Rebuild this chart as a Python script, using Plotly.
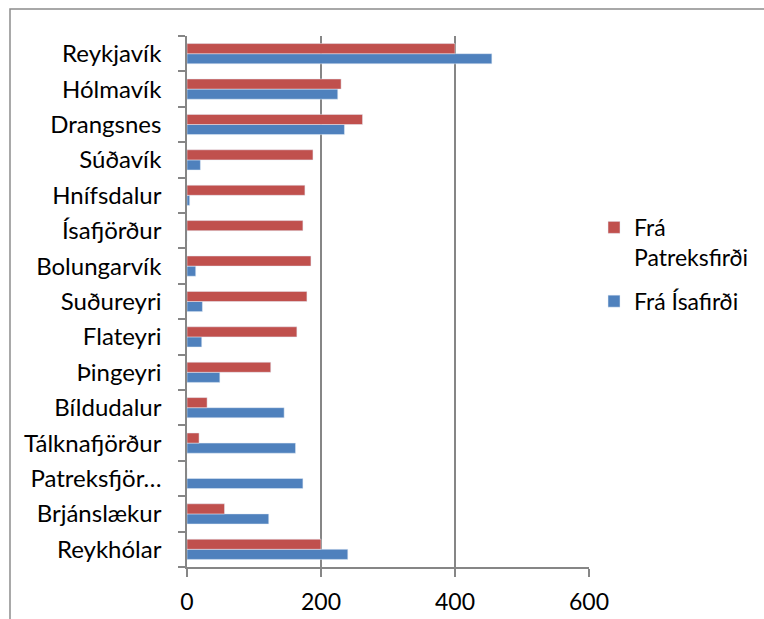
import plotly.graph_objects as go

# Destinations, listed from the bottom of the chart upwards
places = ["Reykhólar", "Brjánslækur", "Patreksfjörður", "Tálknafjörður", "Bíldudalur",
          "Þingeyri", "Flateyri", "Suðureyri", "Bolungarvík", "Ísafjörður",
          "Hnífsdalur", "Súðavík", "Drangsnes", "Hólmavík", "Reykjavík"]
place_labels = ["Reykhólar", "Brjánslækur", "Patreksfjör…", "Tálknafjörður", "Bíldudalur",
                "Þingeyri", "Flateyri", "Suðureyri", "Bolungarvík", "Ísafjörður",
                "Hnífsdalur", "Súðavík", "Drangsnes", "Hólmavík", "Reykjavík"]

fra_patreksfirdi = [200, 56, 0, 18, 30, 125, 164, 179, 185, 173, 176, 188, 262, 230, 400]
fra_isafirdi = [240, 122, 173, 162, 145, 49, 22, 23, 13, 0, 4, 20, 235, 225, 455]

x_ticks = [0, 200, 400, 600]

FONT = "Lato"
GRID = "#868686"

fig = go.Figure()
fig.add_trace(go.Bar(
    y=places, x=fra_isafirdi, orientation="h", name="Frá Ísafirði",
    marker=dict(color="#4F81BD"), legendrank=2, legendgroup="isafj",
))
fig.add_trace(go.Bar(
    y=places, x=fra_patreksfirdi, orientation="h", name="Frá<br>Patreksfirði",
    marker=dict(color="#C0504D"), legendrank=1, legendgroup="patr",
))

fig.update_layout(
    width=764, height=619,
    margin=dict(l=187, r=175, t=36, b=52, autoexpand=False),
    paper_bgcolor="white", plot_bgcolor="white",
    barmode="group", bargap=0.4286, bargroupgap=0,
    font=dict(family=FONT, size=24, color="black"),
    legend=dict(
        x=1.0125, y=0.68, xanchor="left", yanchor="top",
        valign="top", tracegroupgap=11,
        font=dict(family=FONT, size=23, color="black"),
        bgcolor="rgba(0,0,0,0)",
    ),
    shapes=[dict(
        type="rect", xref="paper", yref="paper",
        x0=-0.4403, x1=1.6, y0=-0.3, y1=1.0508,
        line=dict(color="#8c8c8c", width=1.5), fillcolor="rgba(0,0,0,0)", layer="below",
    )],
)

fig.update_xaxes(
    range=[0, 600], tickvals=x_ticks, ticktext=[str(v) for v in x_ticks],
    showgrid=True, gridcolor=GRID, gridwidth=1.5,
    showline=True, linecolor=GRID, linewidth=1.5,
    ticks="outside", ticklen=8, tickcolor=GRID, tickwidth=1.5,
    ticklabelstandoff=6, tickfont=dict(size=23),
    zeroline=False, fixedrange=True,
)
fig.update_yaxes(
    type="category", categoryorder="array", categoryarray=places,
    tickmode="array", tickvals=places, ticktext=place_labels,
    tickson="boundaries",
    showgrid=False, showline=True, linecolor=GRID, linewidth=1.5,
    ticks="outside", ticklen=7, tickcolor=GRID, tickwidth=1.5,
    ticklabelstandoff=19,
    zeroline=False, fixedrange=True,
)

fig.write_html("out.html")
